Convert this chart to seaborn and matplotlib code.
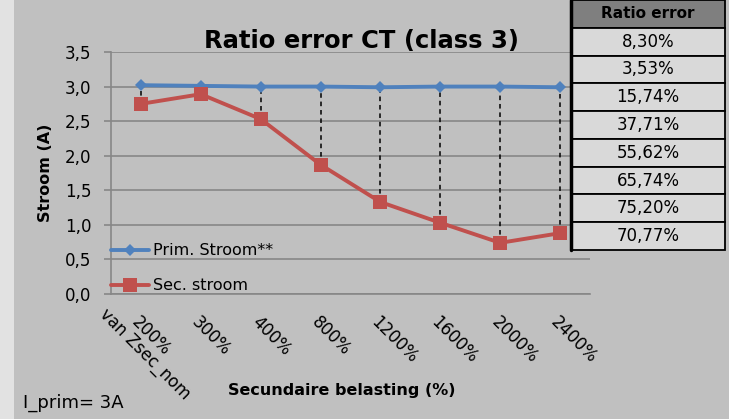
import numpy as np
import pandas as pd
import matplotlib
matplotlib.use('Agg')
import matplotlib.pyplot as plt
import seaborn as sns
from matplotlib.patches import Rectangle

belasting = ['200%', '300%', '400%', '800%', '1200%', '1600%', '2000%', '2400%']
prim_stroom = [3.02, 3.01, 3.00, 3.00, 2.99, 3.00, 3.00, 2.99]
sec_stroom = [2.75, 2.89, 2.53, 1.87, 1.33, 1.03, 0.74, 0.88]
ratio_error = ['8,30%', '3,53%', '15,74%', '37,71%', '55,62%', '65,74%', '75,20%', '70,77%']
y_ticks = [0.0, 0.5, 1.0, 1.5, 2.0, 2.5, 3.0, 3.5]

data = pd.DataFrame({'pos': range(len(belasting)), 'belasting': belasting,
                     'prim': prim_stroom, 'sec': sec_stroom})

sns.set_theme(style='white')
plt.rcParams['font.family'] = ['DejaVu Sans']
plt.rcParams['text.color'] = 'black'
plt.rcParams['axes.labelcolor'] = 'black'
plt.rcParams['xtick.color'] = 'black'
plt.rcParams['ytick.color'] = 'black'

bg = '#c0c0c0'
grid_c = '#878787'
W, H = 729, 419

fig = plt.figure(figsize=(7.29, 4.19), dpi=100, facecolor=bg)
fig.patches.append(Rectangle((0, 0), 14 / W, 1, transform=fig.transFigure,
                             facecolor='#e2e2e2', edgecolor='none', zorder=0))

ax = fig.add_axes([111 / W, 125 / H, 479 / W, 242 / H])
ax.set_facecolor('none')

# verbindingslijnen tussen prim. en sec. stroom
ax.vlines(data['pos'], data['sec'], data['prim'], colors='black',
          linestyles=(0, (3, 2.5)), lw=1.1, zorder=1.5)

sns.lineplot(x='pos', y='prim', data=data, ax=ax, color='#4f81bd', marker='D',
             markersize=6.3, markeredgewidth=0, lw=2.8, label='Prim. Stroom**', zorder=3)
sns.lineplot(x='pos', y='sec', data=data, ax=ax, color='#c0504d', marker='s',
             markersize=9.5, markeredgewidth=0, lw=2.8, label='Sec. stroom', zorder=3)

ax.set_xlim(-0.5, len(belasting) - 0.5)
ax.set_ylim(0, 3.5)
ax.set_yticks(y_ticks)
ax.set_yticklabels([f'{v:.1f}'.replace('.', ',') for v in y_ticks])
ax.yaxis.grid(True, color=grid_c, lw=1.2)
ax.set_axisbelow(True)

ax.set_xticks(data['pos'])
ax.set_xticklabels(belasting, rotation=-45, rotation_mode='anchor', ha='left', va='top')
ax.set_xticks(np.arange(-0.5, len(belasting), 1), minor=True)
ax.tick_params(axis='x', which='major', length=0, pad=14, labelsize=12, labelcolor='black')
ax.tick_params(axis='x', which='minor', length=4.5, width=1.2, color=grid_c, direction='out')
ax.tick_params(axis='y', length=5, width=1.2, color=grid_c, direction='out', pad=9,
               labelsize=12, labelcolor='black', left=True)
ax.annotate('van Zsec_nom', xy=(0, 0), xycoords=('data', 'axes fraction'),
            xytext=(-32, -11), textcoords='offset pixels', rotation=-45,
            rotation_mode='anchor', ha='left', va='top', fontsize=12, color='black',
            annotation_clip=False)

for side in ['top', 'right']:
    ax.spines[side].set_visible(False)
for side in ['left', 'bottom']:
    ax.spines[side].set_color(grid_c)
    ax.spines[side].set_linewidth(1.2)
ax.set_xlabel('')
ax.set_ylabel('')

ax.legend(loc='upper left', bbox_to_anchor=(0, 0.21), frameon=False, fontsize=11.5,
          handlelength=2.4, handletextpad=0.2, labelspacing=1.25, borderpad=0,
          borderaxespad=0, numpoints=1, labelcolor='black')

fig.text(361 / W, 1 - 48 / H, 'Ratio error CT (class 3)', ha='center', va='baseline',
         fontsize=17.5, fontweight='bold', color='black')
fig.text(46 / W, 1 - 173 / H, 'Stroom (A)', rotation=90, ha='center', va='center',
         fontsize=11.5, fontweight='bold', color='black')
fig.text(342 / W, 1 - 391 / H, 'Secundaire belasting (%)', ha='center', va='center',
         fontsize=11.5, fontweight='bold', color='black')
fig.text(23 / W, 1 - 408 / H, 'I_prim= 3A', ha='left', va='baseline', fontsize=13,
         color='black')

# tabel met ratio error
ax_t = fig.add_axes([571 / W, 1 - 250 / H, (725 - 571) / W, 250 / H])
ax_t.axis('off')
tab = ax_t.table(cellText=[['Ratio error']] + [[v] for v in ratio_error],
                 cellLoc='center', bbox=[0, 0, 1, 1])
tab.auto_set_font_size(False)
for (r, c), cell in tab.get_celld().items():
    cell.set_edgecolor('black')
    cell.set_linewidth(1.3)
    cell.get_text().set_color('black')
    if r == 0:
        cell.set_facecolor('#7f7f7f')
        cell.get_text().set_fontweight('bold')
        cell.get_text().set_fontsize(11)
    else:
        cell.set_facecolor('#d9d9d9')
        cell.get_text().set_fontsize(12)
ax_t.plot([0, 0], [0, 1], color='black', lw=2.5, transform=ax_t.transAxes, clip_on=False)

plt.savefig('out.png', dpi=100, facecolor=bg)
